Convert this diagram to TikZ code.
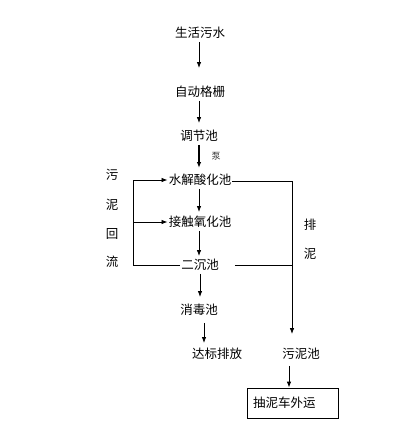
\documentclass[tikz,border=0pt]{standalone}
\usepackage{fontspec}
\setmainfont{Noto Sans CJK SC}
\usetikzlibrary{arrows.meta, positioning, calc}

\begin{document}
\begin{tikzpicture}[
  x=1pt, y=-1pt,
  lbl/.style={inner sep=1pt, font=\fontsize{12.5}{15}\selectfont},
  flow/.style={-{Latex[length=6pt, width=4.5pt]}, line width=0.8pt, shorten <=2pt},
  pipe/.style={line width=0.8pt}
]
  \useasboundingbox (0,0) rectangle (403,437);

  % main line
  \node[lbl] (sewage) at (200, 33) {生活污水};
  \node[lbl] (screen) at (200, 92) {自动格栅};
  \node[lbl] (tank)   at (199, 136) {调节池};
  \node[lbl] (hydro)  at (200, 180) {水解酸化池};
  \node[lbl] (contact) at (200, 222) {接触氧化池};
  \node[lbl] (settle) at (200, 265) {二沉池};
  \node[lbl] (disinf) at (199, 310) {消毒池};
  \node[lbl] (outlet) at (217, 354) {达标排放};
  \node[lbl] (sludge) at (301, 354) {污泥池};
  \node[draw, pipe, lbl, text width=79pt, align=left, inner xsep=6pt,
        minimum height=30pt] (truck) at (292.5, 403) {抽泥车外运};
  \node[font=\fontsize{9}{10}\selectfont, text=black!80, inner sep=0pt] (pump) at (216, 156) {泵};

  % side labels
  \node[lbl] (r1) at (112, 175) {污};
  \node[lbl] (r2) at (112, 205) {泥};
  \node[lbl] (r3) at (112, 234) {回};
  \node[lbl] (r4) at (112, 262) {流};
  \node[lbl] (d1) at (310, 225) {排};
  \node[lbl] (d2) at (310, 254) {泥};

  \draw[flow, shorten >=17pt] ([xshift=-1pt]sewage.south) -- ([xshift=-1pt]screen.north);
  \draw[flow, shorten >=6pt] ([xshift=-1pt]screen.south) -- (tank.north);
  \draw[flow, line width=1.6pt, shorten >=5pt] (tank.south) -- (tank.south |- hydro.north);
  \draw[flow, shorten >=3pt] ([xshift=-1pt]hydro.south) -- ([xshift=-1pt]contact.north);
  \draw[flow, shorten >=2pt] ([xshift=-1pt]contact.south) -- ([xshift=-1pt]settle.north);
  \draw[flow, shorten >=6pt] (settle.south) -- (settle.south |- disinf.north);
  \draw[flow, shorten <=6pt, shorten >=4pt] ([xshift=5pt]disinf.south) -- ([xshift=5pt]disinf.south |- outlet.north);

  % sludge return
  \coordinate (rtop) at (133, 180);
  \coordinate (rbot) at (133, 265);
  \draw[pipe] (settle.west) -- (rbot) -- (rtop);
  \draw[flow, shorten <=0pt] (rtop) -- (hydro.west);
  \draw[flow, shorten <=0pt] (rbot |- contact) -- (contact.west);

  % sludge discharge
  \coordinate (dtop) at (292, 181);
  \draw[flow, shorten <=0pt, shorten >=13pt] (hydro.east |- dtop) -- (dtop) -- (dtop |- sludge.north);
  \draw[pipe] ([xshift=15pt]settle.east) -- (settle.east -| dtop);
  \draw[flow, shorten <=5pt, shorten >=0pt] ([xshift=-12pt]sludge.south) -- ([xshift=-12pt]sludge.south |- truck.north);
\end{tikzpicture}
\end{document}
